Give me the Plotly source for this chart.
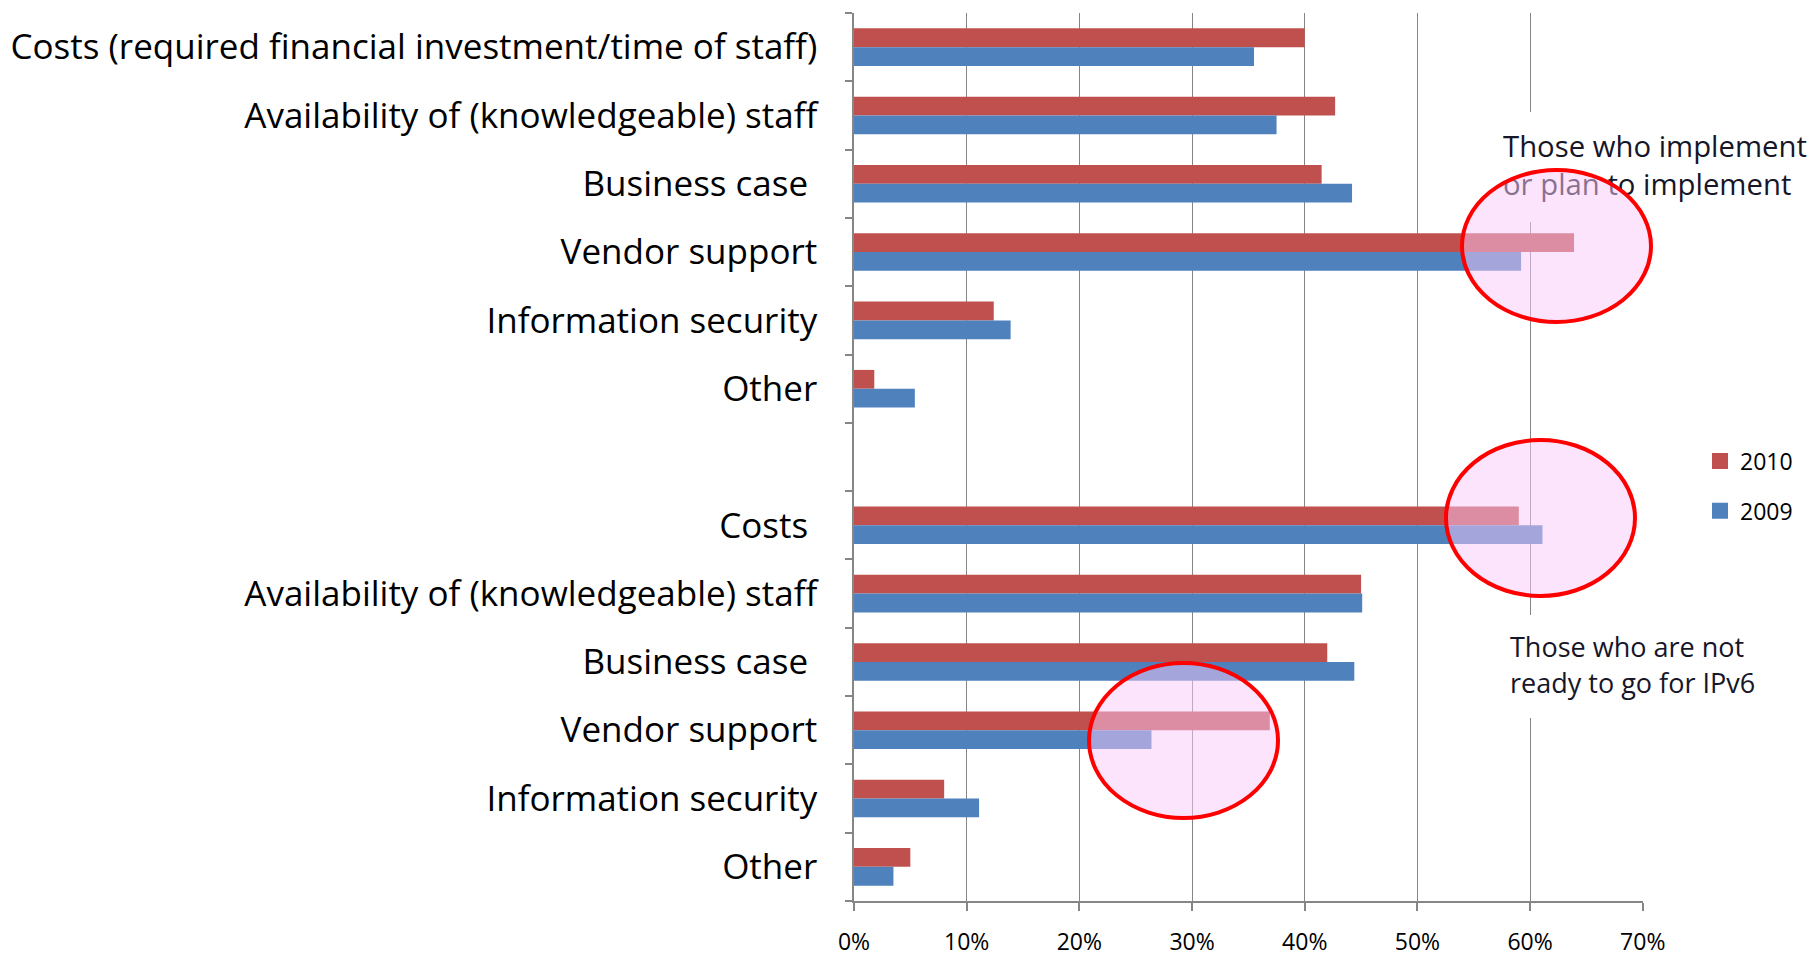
import plotly.graph_objects as go

# ---------------- data ----------------
categories = [
    "Costs (required financial investment/time of staff)",
    "Availability of (knowledgeable) staff",
    "Business case\u00a0",
    "Vendor support",
    "Information security",
    "Other",
    "",
    "Costs\u00a0",
    "Availability of (knowledgeable) staff",
    "Business case\u00a0",
    "Vendor support",
    "Information security",
    "Other",
]
values_2010 = [40.0, 42.7, 41.5, 63.9, 12.4, 1.8, None, 59.0, 45.0, 42.0, 36.9, 8.0, 5.0]
values_2009 = [35.5, 37.5, 44.2, 59.2, 13.9, 5.4, None, 61.1, 45.1, 44.4, 26.4, 11.1, 3.5]
series_names = ["2010", "2009"]
x_ticks = [0, 10, 20, 30, 40, 50, 60, 70]
x_tick_labels = ["0%", "10%", "20%", "30%", "40%", "50%", "60%", "70%"]

note_top = "Those who implement<br>or plan to implement"
note_bottom = "Those who are not<br>ready to go for IPv6"

# ---------------- layout constants ----------------
W, H = 1817, 957
PLOT_X0, PLOT_X1 = 854, 1643   # page pixels
PLOT_Y0, PLOT_Y1 = 13, 901
L = PLOT_X0
R = W - PLOT_X1
T = PLOT_Y0
B = H - PLOT_Y1
PW, PH = W - L - R, H - T - B
FONT = "'Open Sans', 'Noto Sans', sans-serif"
RED, BLUE = "#C0504D", "#4F81BD"
GRID = "#868686"


def px(x):
    return (x - PLOT_X0) / PW


def py(y):
    return 1 - (y - PLOT_Y0) / PH


y_pos = list(range(len(categories)))

fig = go.Figure()
fig.add_trace(go.Bar(y=y_pos, x=values_2010, orientation="h", name=series_names[0],
                     marker=dict(color=RED, line=dict(width=0)), showlegend=False))
fig.add_trace(go.Bar(y=y_pos, x=values_2009, orientation="h", name=series_names[1],
                     marker=dict(color=BLUE, line=dict(width=0)), showlegend=False))
# legend entries (square swatches)
for name, color, grp in [(series_names[0], RED, "a"), (series_names[1], BLUE, "b")]:
    fig.add_trace(go.Scatter(x=[None], y=[None], mode="markers", name=name, legendgroup=grp,
                             marker=dict(symbol="square", size=16, color=color), hoverinfo="skip"))

ellipse_style = dict(type="circle", xref="paper", yref="paper", layer="above",
                     fillcolor="rgba(249,201,249,0.5)", line=dict(color="#FF0000", width=4))
box_style = dict(type="rect", xref="paper", yref="paper", layer="above",
                 fillcolor="white", line=dict(width=0))

shapes = [
    dict(box_style, x0=px(1492), x1=px(1817), y0=py(222), y1=py(112),
         label=dict(text=note_top, textposition="middle left", padding=8,
                    font=dict(family=FONT, size=29.3, color="#161628"))),
    dict(box_style, x0=px(1497), x1=px(1790), y0=py(718), y1=py(615),
         label=dict(text=note_bottom, textposition="middle left", padding=10,
                    font=dict(family=FONT, size=27, color="#161628"))),
    dict(ellipse_style, x0=px(1462), x1=px(1651), y0=py(322), y1=py(170)),
    dict(ellipse_style, x0=px(1446), x1=px(1635), y0=py(596), y1=py(440)),
    dict(ellipse_style, x0=px(1089), x1=px(1278), y0=py(818), y1=py(663)),
]

fig.update_layout(
    width=W, height=H, autosize=False,
    margin=dict(l=L, r=R, t=T, b=B, pad=0),
    paper_bgcolor="white", plot_bgcolor="white",
    barmode="group", bargap=0.45, bargroupgap=0,
    font=dict(family=FONT, color="#000000"),
    shapes=shapes,
    legend=dict(x=px(1700), xanchor="left", y=py(486), yanchor="middle",
                font=dict(family=FONT, size=23, color="#000000"),
                tracegroupgap=17, traceorder="grouped", itemsizing="trace",
                bgcolor="rgba(0,0,0,0)"),
    xaxis=dict(range=[0, 70.02], tickmode="array", tickvals=x_ticks, ticktext=x_tick_labels,
               showgrid=True, gridcolor=GRID, gridwidth=1.4, zeroline=False,
               showline=True, linecolor=GRID, linewidth=1.5,
               ticks="outside", ticklen=8, tickcolor=GRID, tickwidth=1.5,
               tickfont=dict(family=FONT, size=23, color="#000000"),
               ticklabelstandoff=12, automargin=False),
    yaxis=dict(range=[len(categories) - 0.5, -0.5], tickmode="array", tickvals=y_pos,
               ticktext=categories, ticks="", showgrid=False, zeroline=False,
               showline=True, linecolor=GRID, linewidth=1.5,
               tickfont=dict(family=FONT, size=35, color="#000000"),
               ticklabelstandoff=28, automargin=False,
               minor=dict(tickmode="array", tickvals=[i - 0.5 for i in range(len(categories) + 1)],
                          ticks="outside", ticklen=7, tickcolor=GRID, tickwidth=1.5, showgrid=False)),
)

fig.write_html(
    "out.html",
    config={"displayModeBar": False},
    post_script="document.body.style.margin='0px';document.body.style.overflow='hidden';",
)
